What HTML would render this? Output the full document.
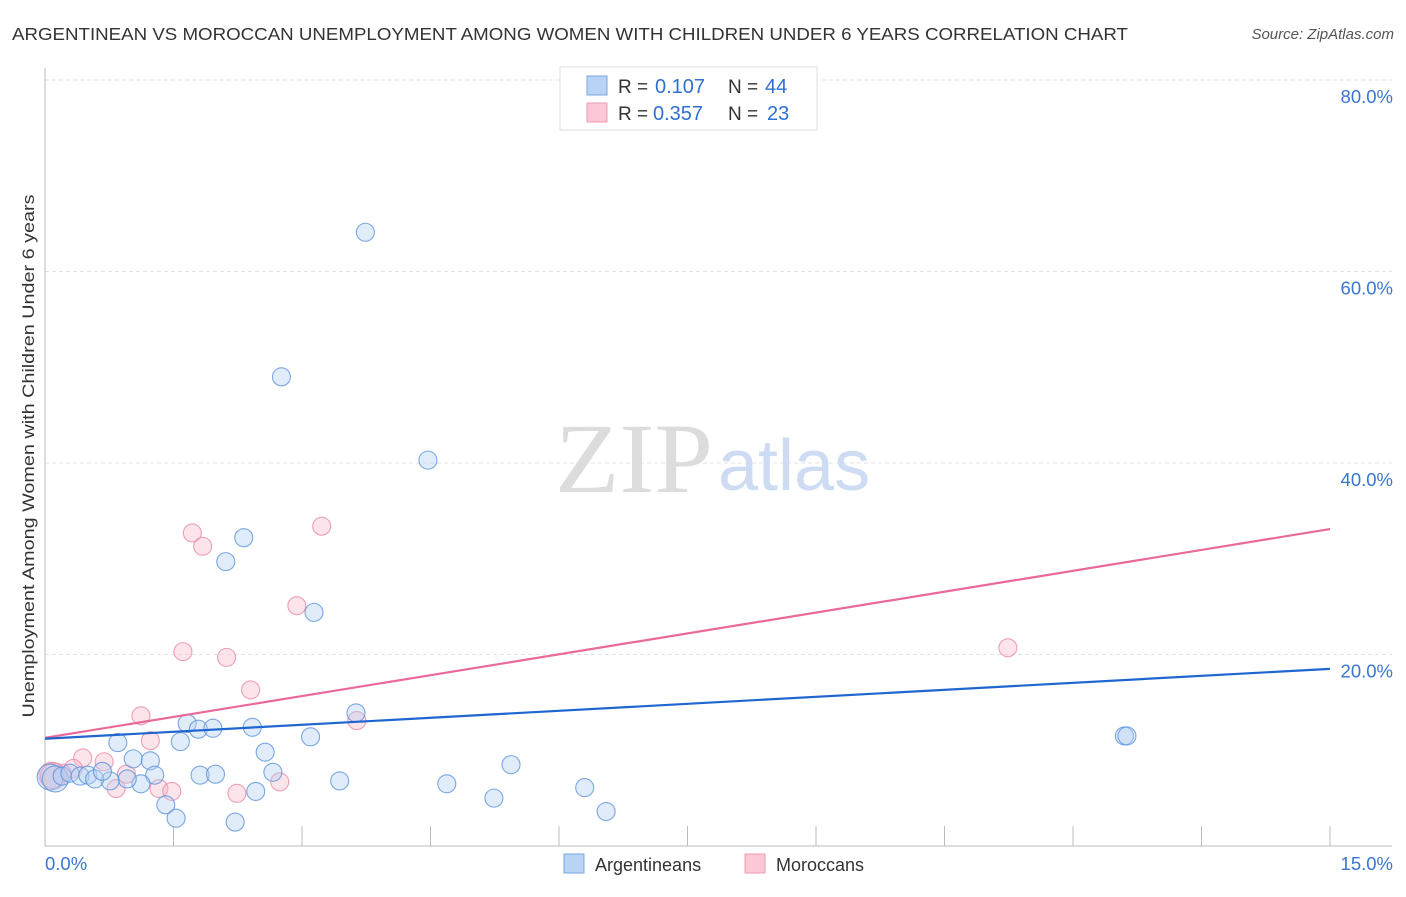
<!DOCTYPE html>
<html><head><meta charset="utf-8"><style>
body{margin:0;background:#fff;font-family:"Liberation Sans",sans-serif;}
</style></head><body>
<svg width="1406" height="892" font-family="Liberation Sans, sans-serif">
<text x="12" y="40" font-size="17.5" fill="#333" textLength="1116" lengthAdjust="spacingAndGlyphs">ARGENTINEAN VS MOROCCAN UNEMPLOYMENT AMONG WOMEN WITH CHILDREN UNDER 6 YEARS CORRELATION CHART</text>
<text x="1394" y="39" font-size="15" fill="#555" text-anchor="end" font-style="italic">Source: ZipAtlas.com</text>
<g id="grid"></g>
<text x="555" y="492" font-size="100" fill="#dcdcdc" style="font-family:'Liberation Serif',serif" textLength="158" lengthAdjust="spacingAndGlyphs">ZIP</text>
<text x="718" y="490" font-size="72" fill="#cddcf2">atlas</text>
<g id="marks"></g>
<text x="34" y="456" font-size="17" fill="#333" text-anchor="middle" textLength="523" lengthAdjust="spacingAndGlyphs" transform="rotate(-90 34 456)">Unemployment Among Women with Children Under 6 years</text>
<g>
<rect x="560" y="67" width="257" height="63" fill="#fff" stroke="#ddd"/>
<rect x="587" y="76" width="20" height="19" fill="#b8d3f5" stroke="#7aa7e0"/>
<rect x="587" y="103" width="20" height="19" fill="#fcc8d6" stroke="#eb9ab2"/>
<text x="618" y="93" font-size="19" fill="#333">R =</text>
<text x="655" y="93" font-size="20" fill="#2f6fd0">0.107</text>
<text x="728" y="93" font-size="19" fill="#333">N =</text>
<text x="765" y="93" font-size="20" fill="#2f6fd0">44</text>
<text x="618" y="120" font-size="19" fill="#333">R =</text>
<text x="653" y="120" font-size="20" fill="#2f6fd0">0.357</text>
<text x="728" y="120" font-size="19" fill="#333">N =</text>
<text x="767" y="120" font-size="20" fill="#2f6fd0">23</text>
</g>
<g>
<rect x="564" y="854" width="20" height="19" fill="#b8d3f5" stroke="#7aa7e0"/>
<text x="595" y="871" font-size="18" fill="#333">Argentineans</text>
<rect x="745" y="854" width="20" height="19" fill="#fcc8d6" stroke="#eb9ab2"/>
<text x="776" y="871" font-size="18" fill="#333">Moroccans</text>
</g>
</svg>
<script>
const yTicks=[20,40,60,80];
const yTickLabels=["20.0%","40.0%","60.0%","80.0%"];
const xTickLabels=["0.0%","15.0%"];
const argX=[3.74,2.76,4.47,2.32,2.11,3.14,12.6,12.63,1.66,1.79,1.96,2.42,1.58,0.85,3.63,3.10,2.57,1.03,1.23,2.66,1.28,1.81,1.99,5.44,3.44,4.69,6.30,2.46,1.12,0.96,0.76,1.41,1.53,2.22,5.24,6.55,0.06,0.12,0.2,0.29,0.41,0.5,0.58,0.67];
const argY=[64.1,49.0,40.3,32.2,29.7,24.4,11.5,11.5,12.8,12.2,12.3,12.4,10.9,10.8,13.9,11.4,9.8,9.1,8.9,7.7,7.4,7.4,7.5,8.5,6.8,6.5,6.1,5.7,6.5,7.0,6.8,4.3,2.9,2.5,5.0,3.6,7.2,7.0,7.3,7.6,7.3,7.4,7.0,7.8];
const morX=[1.72,1.84,3.23,2.94,1.61,2.12,2.40,11.24,1.12,1.23,3.64,0.44,0.69,0.95,0.33,0.2,0.08,0.83,1.33,1.48,2.24,2.74,0.1];
const morY=[32.7,31.3,33.4,25.1,20.3,19.7,16.3,20.7,13.6,11.0,13.1,9.2,8.8,7.5,8.1,7.6,7.4,6.0,6.0,5.7,5.5,6.7,7.3];
const trendArg=[11.2,18.5];
const trendMor=[11.3,33.1];
const sx=v=>45+v/15*1285, sy=v=>846-v*9.575;
const NS="http://www.w3.org/2000/svg";
const g=document.getElementById('grid'), m=document.getElementById('marks');
function el(t,a,p){const e=document.createElementNS(NS,t);for(const k in a)e.setAttribute(k,a[k]);p.appendChild(e);return e;}
yTicks.forEach((t,i)=>{
 const l=el('line',{x1:45,x2:1392,y1:sy(t),y2:sy(t),stroke:'#e2e2e2','stroke-dasharray':'4,3'},g);
 
 
 const tx=el('text',{x:1393,y:sy(t)+23,'font-size':18.5,fill:'#3a76cf','text-anchor':'end'},g);
 tx.textContent=yTickLabels[i];
 
 
});
const ax=el('line',{x1:45,x2:45,y1:68,y2:846,stroke:'#bbb'},g);


const bx=el('line',{x1:45,x2:1392,y1:846,y2:846,stroke:'#bbb'},g);


for(let i=1;i<=10;i++){const x=sx(i*1.5);const t=el('line',{x1:x,x2:x,y1:826,y2:846,stroke:'#bbb'},g);
 
 }
[[0,'start',45],[1,'end',1393]].forEach(([i,a,x])=>{const t=el('text',{x:x,y:870,'font-size':18.5,fill:'#3a76cf','text-anchor':a},g);t.textContent=xTickLabels[i];
 
 });
function dots(X,Y,fill,stroke,name){X.forEach((x,i)=>{const r=(x<0.15)?13:9;
 const c=el('circle',{cx:sx(x),cy:sy(Y[i]),r:r,fill:fill,'fill-opacity':0.4,stroke:stroke,'stroke-opacity':0.8,'stroke-width':1.1},m);
 
 });}
dots(morX,morY,'#f9b8ca','#e88aa6','moroccan-point');
dots(argX,argY,'#b3cff3','#5b92dc','argentinean-point');
const l1=el('line',{x1:sx(0),y1:sy(trendMor[0]),x2:sx(15),y2:sy(trendMor[1]),stroke:'#e8699a','stroke-width':2.2},m);


const l2=el('line',{x1:sx(0),y1:sy(trendArg[0]),x2:sx(15),y2:sy(trendArg[1]),stroke:'#1f66d1','stroke-width':2.2},m);


</script>
</body></html>
